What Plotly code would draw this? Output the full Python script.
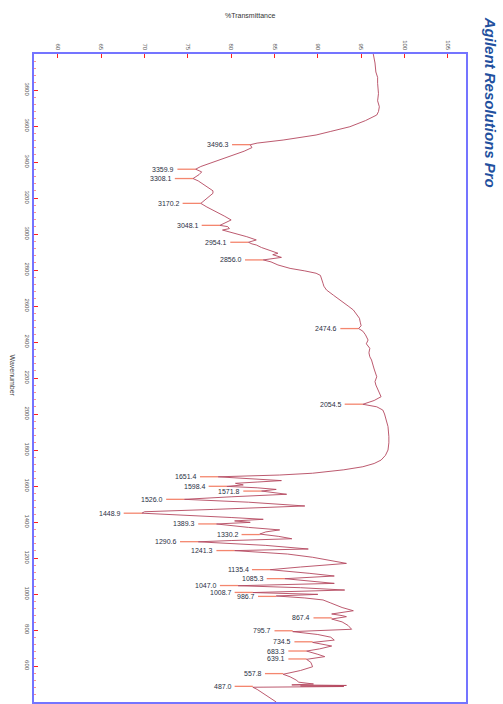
import plotly.graph_objects as go

# Spectrum (wavenumber cm-1, %Transmittance)
wavenumber = [4000, 3950, 3900, 3870, 3837, 3800, 3780, 3740, 3707, 3680, 3661, 3630, 3596, 3570, 3550,
              3522, 3505, 3496, 3480, 3460, 3439, 3410, 3393, 3375, 3360, 3345, 3330, 3315, 3308, 3295,
              3270, 3240, 3226, 3200, 3180, 3170, 3150, 3124, 3100, 3078, 3060, 3048, 3041, 3030, 3022,
              3000, 2985, 2967, 2954, 2945, 2939, 2925, 2910, 2893, 2885, 2870, 2856, 2845, 2828, 2809,
              2795, 2782, 2770, 2750, 2726, 2710, 2689, 2660, 2624, 2600, 2578, 2550, 2532, 2510, 2490,
              2475, 2460, 2440, 2411, 2390, 2365, 2340, 2318, 2300, 2281, 2250, 2207, 2180, 2161, 2130,
              2096, 2075, 2054, 2040, 2022, 2000, 1967, 1930, 1874, 1840, 1800, 1770, 1744, 1725, 1707,
              1690, 1671, 1661, 1651, 1640, 1630, 1622, 1615, 1606, 1598, 1590, 1581, 1572, 1563, 1554,
              1540, 1526, 1510, 1489, 1470, 1457, 1449, 1440, 1425, 1415, 1406, 1398, 1389, 1370, 1356,
              1345, 1333, 1320, 1307, 1297, 1290, 1270, 1250, 1241, 1222, 1204, 1185, 1170, 1150, 1135,
              1115, 1100, 1085, 1070, 1059, 1046, 1035, 1022, 1008, 998, 989, 978, 967, 950, 939,
              925, 907, 895, 889, 880, 874, 861, 845, 825, 804, 791, 775, 760, 744, 731,
              720, 711, 695, 683, 665, 652, 637, 620, 596, 575, 554, 540, 522, 510, 500,
              495, 492, 489, 486, 482, 470, 440, 400]
transmittance = [96.4, 96.6, 96.7, 96.9, 96.9, 97.0, 97.0, 96.9, 97.1, 97.0, 96.8, 95.5, 93.7, 91.5, 89.8,
                 86.0, 83.0, 82.2, 82.4, 81.5, 80.2, 78.5, 77.5, 76.5, 75.9, 76.6, 76.3, 75.7, 75.6, 76.2,
                 77.0, 77.9, 77.9, 77.2, 76.7, 76.5, 77.2, 78.3, 79.2, 80.0, 79.3, 78.7, 79.6, 79.8, 79.0,
                 80.8, 81.8, 82.9, 82.0, 82.4, 82.9, 83.5, 84.5, 85.4, 84.8, 85.8, 83.7, 84.6, 85.4, 86.8,
                 88.5, 89.8, 90.3, 90.4, 90.6, 90.7, 91.0, 91.8, 92.9, 93.5, 94.1, 94.5, 94.8, 94.9, 95.0,
                 94.7, 95.2, 95.5, 95.8, 95.6, 96.0, 95.9, 96.0, 96.2, 96.3, 96.5, 96.8, 96.6, 96.7, 97.0,
                 97.3, 96.5, 95.2, 96.8, 97.5, 97.7, 97.9, 98.1, 98.2, 98.2, 98.1, 97.8, 97.3, 96.5, 95.2,
                 93.0, 89.4, 85.6, 78.5, 82.0, 85.8, 83.0, 80.5, 81.4, 79.5, 83.0, 85.2, 83.5, 85.0, 86.4,
                 80.0, 74.6, 82.0, 88.5, 78.0, 70.0, 69.7, 73.0, 80.0, 83.7, 80.4, 82.2, 78.3, 82.0, 85.6,
                 84.0, 83.3, 85.5, 87.0, 80.0, 76.2, 84.0, 88.9, 80.4, 86.5, 89.4, 91.5, 93.3, 88.0, 84.5,
                 89.0, 91.9, 86.2, 90.0, 91.9, 80.8, 88.0, 93.1, 82.5, 90.0, 85.2, 88.5, 90.6, 91.5, 92.1,
                 92.8, 94.1, 92.5, 91.6, 92.8, 93.3, 91.6, 92.8, 93.5, 93.9, 87.1, 90.0, 91.5, 91.9, 89.4,
                 90.5, 91.6, 90.2, 88.7, 90.0, 90.8, 88.7, 89.2, 89.4, 88.0, 86.0, 86.8, 87.5, 87.8, 89.5,
                 87.0, 93.3, 88.0, 93.0, 82.5, 83.0, 84.0, 85.2]

# Labelled peaks
peak_labels = ["3496.3", "3359.9", "3308.1", "3170.2", "3048.1", "2954.1", "2856.0", "2474.6",
               "2054.5", "1651.4", "1598.4", "1571.8", "1526.0", "1448.9", "1389.3", "1330.2",
               "1290.6", "1241.3", "1135.4", "1085.3", "1047.0", "1008.7", "986.7", "867.4",
               "795.7", "734.5", "683.3", "639.1", "557.8", "487.0"]
peak_wn = [3496.3, 3359.9, 3308.1, 3170.2, 3048.1, 2954.1, 2856.0, 2474.6,
           2054.5, 1651.4, 1598.4, 1571.8, 1526.0, 1448.9, 1389.3, 1330.2,
           1290.6, 1241.3, 1135.4, 1085.3, 1047.0, 1008.7, 986.7, 867.4,
           795.7, 734.5, 683.3, 639.1, 557.8, 487.0]
peak_t = [82.2, 75.9, 75.6, 76.5, 78.7, 82.0, 83.7, 94.7,
          95.2, 78.5, 79.5, 83.5, 74.6, 69.7, 78.3, 83.3,
          76.2, 80.4, 84.5, 86.2, 80.8, 82.5, 85.2, 91.6,
          87.1, 89.4, 88.7, 88.7, 86.0, 82.5]

x_ticks = [60, 65, 70, 75, 80, 85, 90, 95, 100, 105]
y_ticks = [400, 600, 800, 1000, 1200, 1400, 1600, 1800, 2000, 2200, 2400, 2600, 2800, 3000,
           3200, 3400, 3600, 3800]

LEADER = 2.1
FONT = "Liberation Sans, Arial, sans-serif"

lead_x, lead_y = [], []
for w, t in zip(peak_wn, peak_t):
    lead_x += [t - LEADER, t, None]
    lead_y += [w, w, None]

fig = go.Figure()
fig.add_trace(go.Scatter(x=lead_x, y=lead_y, mode="lines",
                         line=dict(color="#f4866e", width=1.3), hoverinfo="skip"))
fig.add_trace(go.Scatter(x=transmittance, y=wavenumber, mode="lines",
                         line=dict(color="#b4475f", width=0.9)))

for lab, w, t in zip(peak_labels, peak_wn, peak_t):
    fig.add_annotation(x=t - LEADER, y=w, text=lab, showarrow=False, xanchor="right",
                       yanchor="middle", xshift=-1, font=dict(size=7, color="#2a2f3f", family=FONT))

fig.add_annotation(xref="paper", yref="paper", x=0.5, y=1.06, text="%Transmittance",
                   showarrow=False, xanchor="center", yanchor="middle",
                   font=dict(size=7, color="#333333", family=FONT))
fig.add_annotation(xref="paper", yref="paper", x=-0.049, y=0.504, text="Wavenumber",
                   showarrow=False, textangle=90, xanchor="center", yanchor="middle",
                   font=dict(size=7, color="#444444", family=FONT))
fig.add_annotation(xref="paper", yref="paper", x=1.056, y=0.926,
                   text="<b><i>Agilent Resolutions Pro</i></b>",
                   showarrow=False, textangle=90, xanchor="center", yanchor="middle",
                   font=dict(size=15, color="#22509e", family=FONT))

fig.update_layout(
    width=503, height=704,
    margin=dict(l=34, r=37, t=54, b=2, autoexpand=False),
    paper_bgcolor="white", plot_bgcolor="white",
    showlegend=False,
    font=dict(family=FONT),
)
fig.update_xaxes(side="top", range=[57.25, 107.1], tickvals=x_ticks, ticktext=[str(v) for v in x_ticks],
                 tickangle=90, tickfont=dict(size=6, color="#555555"), automargin=False,
                 ticks="inside", ticklen=4, tickcolor="#ff2020", tickwidth=1,
                 showline=True, linecolor="#7474ff", linewidth=1.5, mirror=True,
                 showgrid=False, zeroline=False)
fig.update_yaxes(range=[400, 4000], tickvals=y_ticks, ticktext=[str(v) for v in y_ticks],
                 tickangle=90, tickfont=dict(size=6, color="#555555"), automargin=False,
                 ticks="inside", ticklen=4, tickcolor="#ff2020", tickwidth=1,
                 minor=dict(dtick=40, ticks="inside", ticklen=2, tickcolor="#ff9090"),
                 showline=True, linecolor="#7474ff", linewidth=1.5, mirror=True,
                 showgrid=False, zeroline=False)

fig.write_html("out.html", config={"displayModeBar": False})

# remove the default page margin so the 503x704 figure fills the window exactly
with open("out.html", "r", encoding="utf-8") as f:
    html = f.read()
html = html.replace("<head>", "<head><style>html,body{margin:0;padding:0;overflow:hidden;}</style>", 1)
with open("out.html", "w", encoding="utf-8") as f:
    f.write(html)
